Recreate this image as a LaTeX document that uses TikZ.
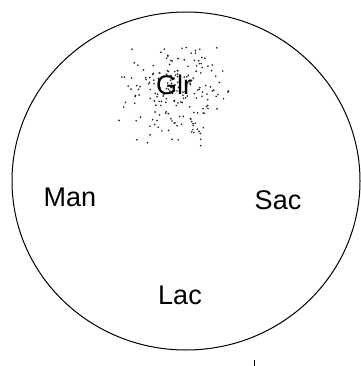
\documentclass[tikz,border=0pt]{standalone}
\usepackage{fontspec}
\setmainfont{Liberation Sans}
\tikzset{lbl/.style={font=\fontsize{27}{30}\selectfont, inner sep=0pt},
  rim/.style={draw=black, line width=1pt},
  dot/.style={fill=black!85}}
\begin{document}
\begin{tikzpicture}[x=1pt,y=-1pt]
\useasboundingbox (0,0) rectangle (360,366);
\draw[rim] (186,181) ellipse [x radius=174, y radius=169];
\pgfmathsetseed{7}
\foreach \i in {1,...,200}{
  \pgfmathsetmacro{\dx}{31*(rand+rand)}
  \pgfmathsetmacro{\dy}{28*(rand+rand)}
  \fill[dot] (172+\dx,92+\dy) circle (0.95);
}
\node[lbl] (glr) at (174,85) {Glr};
\node[lbl] (man) at (70,197) {Man};
\node[lbl] (sac) at (278,200) {Sac};
\node[lbl] (lac) at (180,295) {Lac};
\coordinate (t1) at (254,360);
\coordinate (t2) at (254,366);
\draw[line width=1pt] (t1) -- (t2);
\end{tikzpicture}
\end{document}
